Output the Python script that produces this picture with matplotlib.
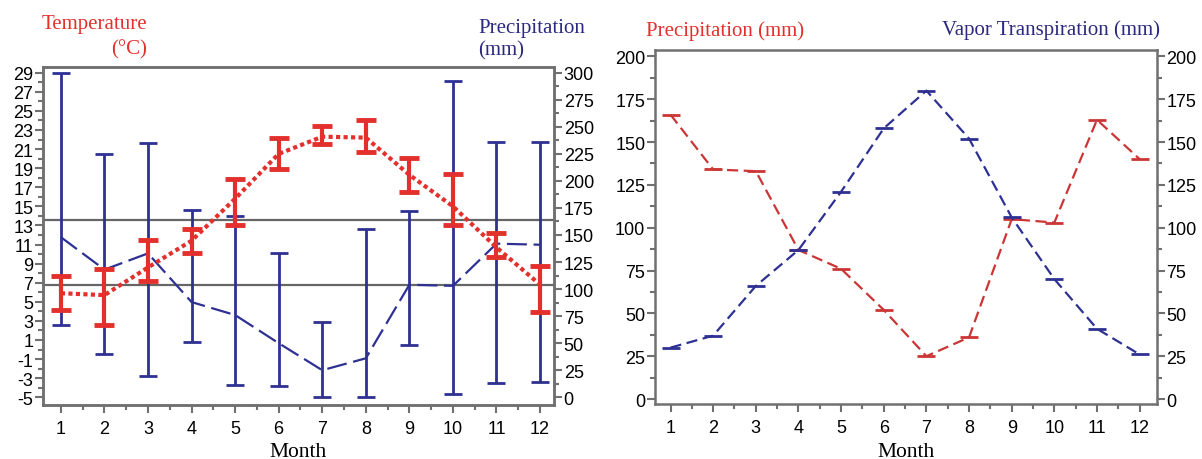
import matplotlib
matplotlib.use("Agg")
import matplotlib.pyplot as plt
from matplotlib.ticker import MultipleLocator
import numpy as np

plt.rcParams["axes.unicode_minus"] = False

# ---------------- data ----------------
months = [1, 2, 3, 4, 5, 6, 7, 8, 9, 10, 11, 12]
month_labels = [str(m) for m in months]

# left chart: temperature (°C) mean / low / high
temp_mean = [5.9, 5.7, 8.6, 11.4, 15.8, 20.5, 22.3, 22.2, 18.3, 15.0, 10.7, 6.8]
temp_low = [4.1, 2.6, 7.2, 10.1, 13.0, 18.9, 21.5, 20.7, 16.5, 13.0, 9.7, 3.9]
temp_high = [7.7, 8.4, 11.5, 12.6, 17.9, 22.2, 23.4, 24.0, 20.1, 18.4, 12.2, 8.8]

# left chart: precipitation (mm) mean / low / high
prec_mean = [148, 118, 133, 88, 76, 50, 25, 36, 104, 103, 142, 141]
prec_low = [67, 40, 20, 51, 11, 10, 0, 0, 48, 3, 13, 14]
prec_high = [300, 225, 235, 173, 168, 133, 70, 156, 172, 292, 236, 236]

# reference horizontal lines (°C)
ref_temps = [13.6, 6.8]

# right chart
precip_right = [166, 134, 133, 87, 76, 52, 25, 36, 105, 103, 163, 140]
vapor_right = [30, 37, 66, 87, 121, 158, 180, 152, 106, 70, 41, 26]

# ---------------- style ----------------
RED = "#e3302d"
RED2 = "#cc3535"
NAVY = "#2e3192"
TXT_NAVY = "#2b2a80"
FRAME = "#707070"
SERIF = "Liberation Serif"
SANS = "Liberation Sans"
TICK_FS = 13

W, H = 1202, 460
fig = plt.figure(figsize=(W / 100, H / 100), dpi=100)


def box(x0, x1, y0, y1):
    return [x0 / W, 1 - y1 / H, (x1 - x0) / W, (y1 - y0) / H]


def style_axes(ax):
    for s in ax.spines.values():
        s.set_color(FRAME)
        s.set_linewidth(1.8)
    ax.tick_params(which="both", direction="out", color=FRAME, width=1.5,
                   labelsize=TICK_FS, labelcolor="black")
    ax.tick_params(which="major", length=6)
    ax.tick_params(which="minor", length=3.5)
    for lab in ax.get_xticklabels() + ax.get_yticklabels():
        lab.set_fontfamily(SANS)


def t2mm(t):
    return (t + 5) * 300 / 34


# ---------------- left chart ----------------
t_lo, t_hi = -5.78, 29.6
axp = fig.add_axes(box(43, 554, 68, 405.7))
axt = axp.twinx()

axp.set_xlim(0.59, 12.32)
axp.set_ylim(t2mm(t_lo), t2mm(t_hi))
axp.yaxis.tick_right()
axp.yaxis.set_major_locator(MultipleLocator(25))
axp.yaxis.set_minor_locator(MultipleLocator(12.5))
axp.set_xticks(months)
axp.set_xticklabels(month_labels)
axp.xaxis.set_minor_locator(MultipleLocator(0.5))
axp.tick_params(axis="x", which="both", top=False, pad=5)
axp.tick_params(axis="y", which="both", left=False, labelleft=False,
                right=True, labelright=True, pad=1)

pm = np.array(prec_mean)
axp.errorbar(months, pm, yerr=[pm - np.array(prec_low), np.array(prec_high) - pm],
             fmt="none", ecolor=NAVY, elinewidth=2.0, capsize=6.5, capthick=2.0, zorder=2)
axp.plot(months, pm, color=NAVY, lw=1.6, dashes=(9, 3), zorder=3)
for t in ref_temps:
    axp.axhline(t2mm(t), color="#666666", lw=1.6, zorder=1)
style_axes(axp)
axp.set_xlabel("Month", fontfamily=SERIF, fontsize=15.5, labelpad=3.5)

axt.set_ylim(t_lo, t_hi)
axt.yaxis.tick_left()
axt.set_yticks(list(range(-5, 30, 2)))
axt.yaxis.set_minor_locator(MultipleLocator(1))
axt.tick_params(axis="y", which="both", left=True, labelleft=True,
                right=False, labelright=False, pad=1)
tm = np.array(temp_mean)
axt.errorbar(months, tm, yerr=[tm - np.array(temp_low), np.array(temp_high) - tm],
             fmt="none", ecolor=RED, elinewidth=3.0, capsize=7.5, capthick=3.5, zorder=4)
axt.plot(months, tm, color=RED, lw=3.0, linestyle=(0, (1, 0.8)), zorder=5)
style_axes(axt)
axt.patch.set_visible(False)

fig.text(147 / W, 1 - 24 / H, "Temperature", color=RED, fontfamily=SERIF, fontsize=15,
         ha="right", va="center")
fig.text(147 / W, 1 - 50 / H, "(°C)", color=RED, fontfamily=SERIF, fontsize=15,
         ha="right", va="center")
fig.text(478 / W, 1 - 28 / H, "Precipitation", color=TXT_NAVY, fontfamily=SERIF, fontsize=15,
         ha="left", va="center")
fig.text(478 / W, 1 - 51 / H, "(mm)", color=TXT_NAVY, fontfamily=SERIF, fontsize=15,
         ha="left", va="center")

# ---------------- right chart ----------------
axr = fig.add_axes(box(655, 1156.7, 50.7, 405))
axr.set_xlim(0.636, 12.40)
axr.set_ylim(-2.9, 203.9)
axr.set_xticks(months)
axr.set_xticklabels(month_labels)
axr.xaxis.set_minor_locator(MultipleLocator(0.5))
axr.yaxis.set_major_locator(MultipleLocator(25))
axr.yaxis.set_minor_locator(MultipleLocator(12.5))
axr.tick_params(axis="x", which="both", top=False, pad=5)
axr.tick_params(axis="y", which="both", left=True, right=True, labelleft=True,
                labelright=True, pad=1)
axr.plot(months, precip_right, color=RED2, lw=1.6, dashes=(5, 2.5),
         marker="_", markersize=13, markeredgewidth=2, zorder=3)
axr.plot(months, vapor_right, color=NAVY, lw=1.6, dashes=(5, 2.5),
         marker="_", markersize=13, markeredgewidth=2, zorder=3)
style_axes(axr)
axr.set_xlabel("Month", fontfamily=SERIF, fontsize=15.5, labelpad=4)

fig.text(646 / W, 1 - 31 / H, "Precipitation (mm)", color=RED, fontfamily=SERIF, fontsize=15,
         ha="left", va="center")
fig.text(942 / W, 1 - 30 / H, "Vapor Transpiration (mm)", color=TXT_NAVY, fontfamily=SERIF,
         fontsize=15, ha="left", va="center")

fig.savefig("out.png", dpi=100)
